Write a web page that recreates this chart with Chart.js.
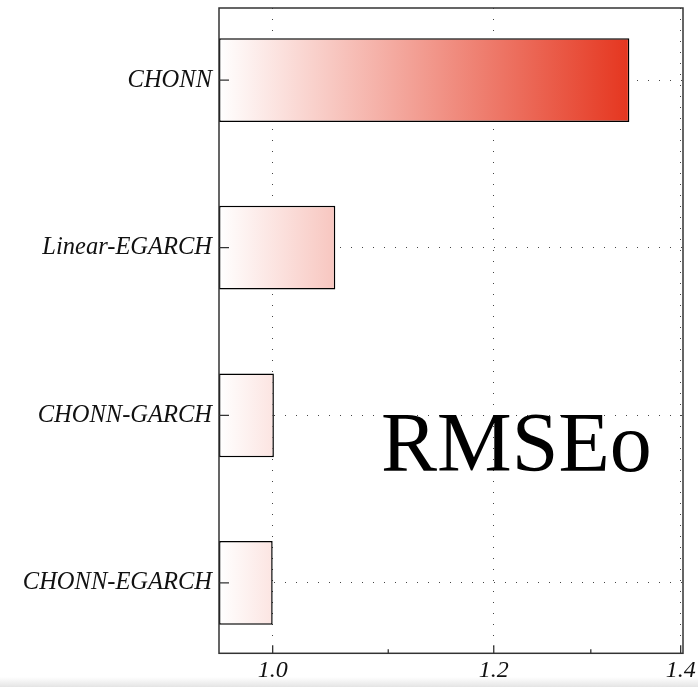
<!DOCTYPE html>
<html>
<head>
<meta charset="utf-8">
<script src="https://cdn.jsdelivr.net/npm/chart.js@4"></script>
<style>
  html, body { margin: 0; padding: 0; background: #ffffff; }
  #wrap { position: relative; width: 698px; height: 687px; overflow: hidden; }
  #shade { position: absolute; left: 0; right: 0; bottom: 0; height: 10px;
           background: linear-gradient(#ffffff, #e4e4e4); }
</style>
</head>
<body>
<div id="wrap">
  <canvas id="chart" width="698" height="687"></canvas>
  <div id="shade"></div>
</div>
<script>
// Models compared, top to bottom
const models = ['CHONN', 'Linear-EGARCH', 'CHONN-GARCH', 'CHONN-EGARCH'];
// Out-of-sample RMSE for each model
const rmseo = [1.342, 1.053, 1.001, 1.000];
// Horizontal axis ticks (log scale); only some are labelled
const xTickValues = [1.0, 1.1, 1.2, 1.3, 1.4];
const xTickLabels = ['1.0', '', '1.2', '', '1.4'];
const xMajor = [true, false, true, false, true];
const panelTitle = 'RMSEo';

const serif = '"Liberation Serif", "Times New Roman", serif';
const frameColor = '#333333';

// Frame, inward tick marks and the panel title
const framePlugin = {
  id: 'frame',
  afterDatasetsDraw(chart) {
    const { ctx, chartArea: a, scales: { x, y } } = chart;
    ctx.save();
    ctx.strokeStyle = frameColor;
    ctx.lineWidth = 1.5;
    ctx.strokeRect(a.left, a.top, a.right - a.left, a.bottom - a.top);
    ctx.lineWidth = 1.3;
    ctx.beginPath();
    models.forEach((m, i) => {
      const py = y.getPixelForValue(i);
      ctx.moveTo(a.left, py);
      ctx.lineTo(a.left + 10, py);
    });
    xTickValues.forEach((v, i) => {
      const px = x.getPixelForValue(v);
      if (px >= a.right - 2) return;
      ctx.moveTo(px, a.bottom);
      ctx.lineTo(px, a.bottom - (xMajor[i] ? 8 : 4));
    });
    ctx.stroke();
    ctx.restore();
  },
  afterDraw(chart) {
    const { ctx, chartArea: a } = chart;
    ctx.save();
    ctx.fillStyle = '#000000';
    ctx.font = '84px ' + serif;
    ctx.textAlign = 'left';
    ctx.textBaseline = 'alphabetic';
    ctx.fillText(panelTitle, a.left + 162, a.top + 463);
    ctx.restore();
  }
};

function barFill(context) {
  const chart = context.chart;
  const a = chart.chartArea;
  if (!a) return '#f0a090';
  const end = chart.scales.x.getPixelForValue(Math.max(...rmseo));
  const g = chart.ctx.createLinearGradient(a.left, 0, end, 0);
  g.addColorStop(0, '#ffffff');
  g.addColorStop(1, '#e5361f');
  return g;
}

new Chart(document.getElementById('chart'), {
  type: 'bar',
  data: {
    datasets: [{
      data: rmseo.map((v, i) => ({ x: v, y: i })),
      backgroundColor: barFill,
      borderColor: '#000000',
      borderWidth: 1.5,
      borderSkipped: false,
      categoryPercentage: 1.0,
      barPercentage: 0.5
    }]
  },
  options: {
    indexAxis: 'y',
    responsive: false,
    animation: false,
    events: [],
    layout: { padding: { top: 8, right: 15, left: 0, bottom: 0 } },
    plugins: { legend: { display: false }, tooltip: { enabled: false } },
    scales: {
      x: {
        type: 'logarithmic',
        position: 'bottom',
        min: 0.9567,
        max: 1.4027,
        afterBuildTicks(scale) {
          scale.ticks = xTickValues.map((v, i) => ({ value: v, major: xMajor[i] }));
        },
        afterFit(scale) {
          scale.height = 33.7;
          scale.paddingLeft = 0;
          scale.paddingRight = 0;
        },
        ticks: {
          autoSkip: false,
          maxRotation: 0,
          padding: 3,
          color: '#111111',
          font: { family: serif, size: 24, style: 'italic' },
          callback: (v, i) => xTickLabels[i]
        },
        grid: {
          drawTicks: false,
          lineWidth: 1,
          color: (c) => (c.tick && c.tick.major ? '#444444' : 'rgba(0,0,0,0)')
        },
        border: { display: false, dash: [1, 10] }
      },
      y: {
        type: 'linear',
        reverse: true,
        offset: false,
        min: -0.43,
        max: 3.42,
        afterBuildTicks(scale) {
          scale.ticks = models.map((m, i) => ({ value: i }));
        },
        afterFit(scale) {
          scale.width = 219;
          scale.paddingTop = 0;
          scale.paddingBottom = 0;
        },
        ticks: {
          autoSkip: false,
          padding: 7,
          color: '#111111',
          font: { family: serif, size: 24.5, style: 'italic' },
          callback: (v) => models[v]
        },
        grid: {
          offset: false,
          drawTicks: false,
          lineWidth: 1,
          color: '#444444'
        },
        border: { display: false, dash: [1, 10] }
      }
    }
  },
  plugins: [framePlugin]
});
</script>
</body>
</html>
